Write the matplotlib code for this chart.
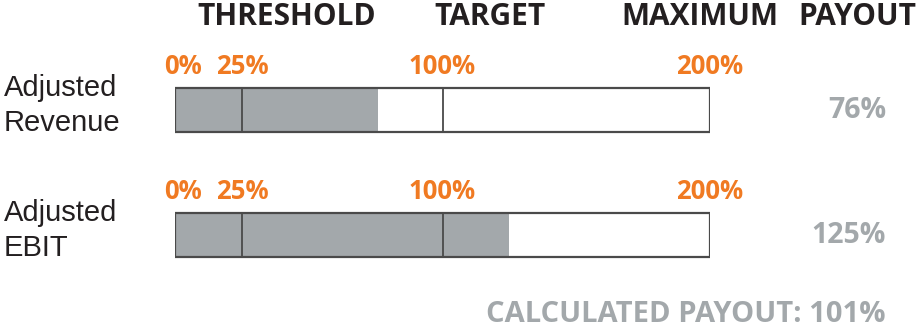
import matplotlib
matplotlib.use("Agg")
from matplotlib import pyplot as plt
from matplotlib import transforms

metrics = ["Adjusted\nRevenue", "Adjusted\nEBIT"]
achieved = [76, 125]
payout_labels = ["76%", "125%"]
tick_values = [0, 25, 100, 200]
tick_labels = ["0%", "25%", "100%", "200%"]
dividers = [25, 100]
headers = ["THRESHOLD", "TARGET", "MAXIMUM", "PAYOUT"]
header_x = [287, 490, 700, 857]  # header centres in pixels
total_label = "CALCULATED PAYOUT: 101%"

W, H = 917, 332
fill = "#a3a8ab"
edge = "#4a4a4a"
orange = "#f07a22"
dark = "#231f20"
grey_txt = "#a3a8ab"

fig = plt.figure(figsize=(W / 100, H / 100), dpi=100)
# axes spans the bar region horizontally, whole figure vertically
ax = fig.add_axes([175 / W, 0, 535 / W, 1])
ax.set_xlim(0, 200)
ax.set_ylim((H - 110) / 125, -110 / 125)
ax.axis("off")

rows = list(range(len(metrics)))
bh = 44 / 125
ax.barh(rows, [200] * len(rows), height=bh, color="white", zorder=1)
ax.barh(rows, achieved, height=bh, color=fill, zorder=2)
for r in rows:
    ax.vlines(dividers, r - bh / 2, r + bh / 2, color=edge, lw=1.3, zorder=3)
ax.barh(rows, [200] * len(rows), height=bh, fill=False, edgecolor=edge,
        lw=1.6, zorder=4)

bold = dict(family="Open Sans", weight="bold")
for r in rows:
    for v, lab in zip(tick_values, tick_labels):
        xv = v + 3 if v == 0 else v
        ax.text(xv, r - 0.29, lab, ha="center", va="baseline",
                color=orange, fontsize=18.5, **bold)

mixed = transforms.blended_transform_factory(fig.transFigure, ax.transData)
for r, name, p in zip(rows, metrics, payout_labels):
    ax.text(4 / W, r - 0.035, name, transform=mixed, ha="left", va="center",
            fontsize=21, family="Liberation Sans", color=dark,
            linespacing=1.3)
    ax.text(886 / W, r + 0.005, p, transform=mixed, ha="right", va="center",
            color=grey_txt, fontsize=20.5, **bold)

for h, hx in zip(headers, header_x):
    fig.text(hx / W, 1 - 25 / H, h, ha="center", va="baseline",
             color=dark, fontsize=21.5, **bold)

fig.text(886 / W, 1 - 322 / H, total_label, ha="right", va="baseline",
         color=grey_txt, fontsize=21, **bold)

fig.savefig("out.png", dpi=100)
plt.close()
